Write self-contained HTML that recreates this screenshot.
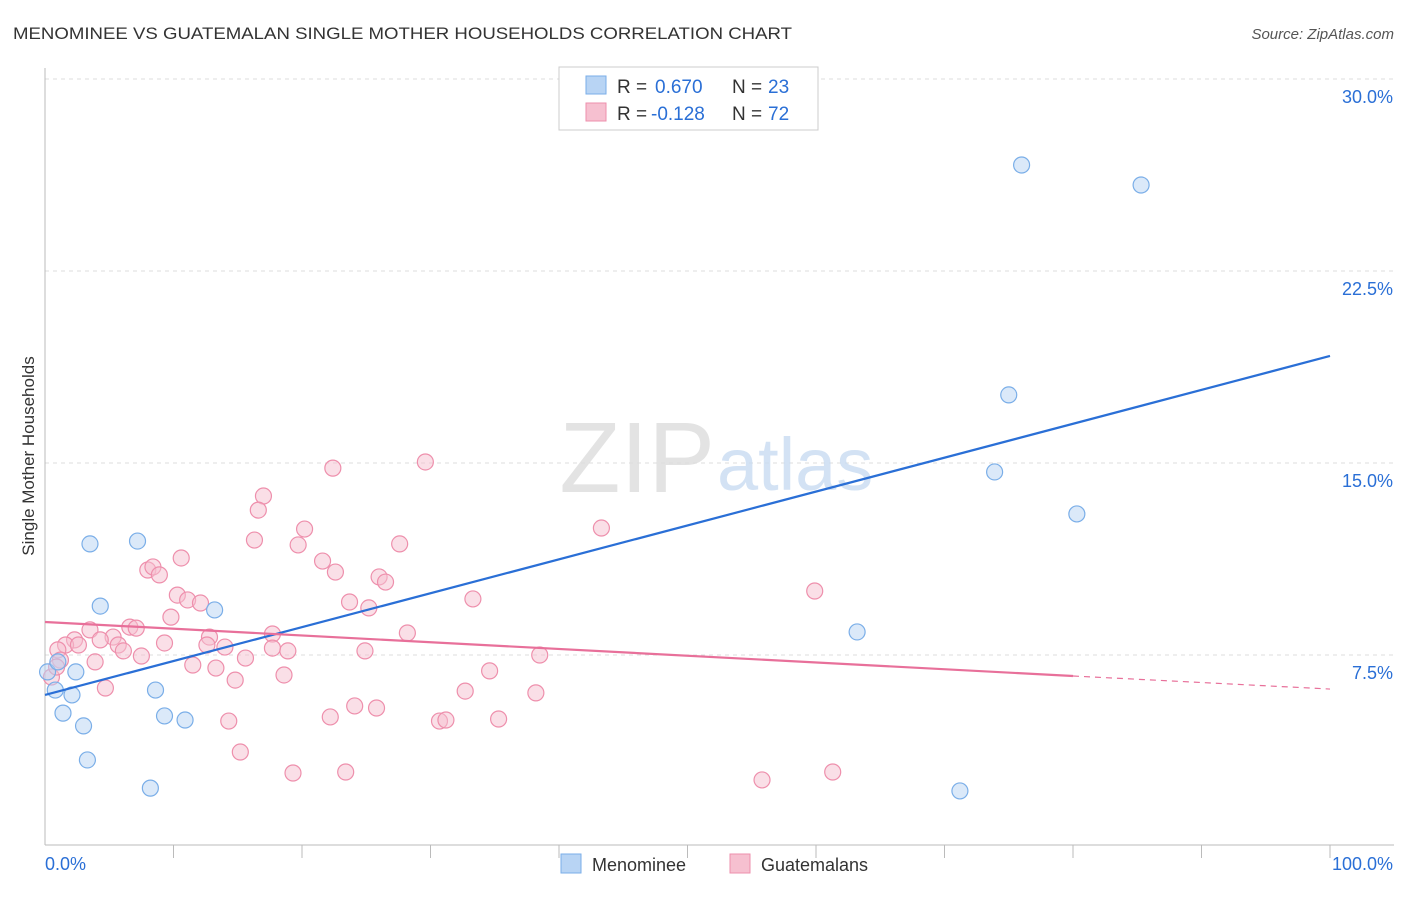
<!DOCTYPE html>
<html><head><meta charset="utf-8"><style>
body{margin:0;background:#fff;font-family:"Liberation Sans",sans-serif;}
svg text{font-family:"Liberation Sans",sans-serif;}
</style></head><body>
<svg width="1406" height="892" viewBox="0 0 1406 892">
<text x="13" y="39" font-size="17" fill="#333" textLength="779" lengthAdjust="spacingAndGlyphs">MENOMINEE VS GUATEMALAN SINGLE MOTHER HOUSEHOLDS CORRELATION CHART</text>
<text x="1394" y="39" font-size="15" fill="#555" text-anchor="end" font-style="italic">Source: ZipAtlas.com</text>
<g id="grid"></g>
<g id="axes"></g>
<text x="715" y="492" font-size="100" fill="#ddd" text-anchor="end" font-family="Liberation Serif" opacity="0.8">ZIP</text>
<text x="717" y="490" font-size="74" fill="#c9dcf2" opacity="0.8">atlas</text>
<g id="pts"></g>
<g id="lines"></g>
<text x="34" y="456" font-size="17" fill="#333" text-anchor="middle" transform="rotate(-90 34 456)">Single Mother Households</text>
<g>
<rect x="559" y="67" width="259" height="63" fill="#fff" stroke="#ccc"/>
<rect x="586" y="76" width="20" height="18" fill="#b8d4f4" stroke="#7aaee8"/>
<text x="617" y="93" font-size="19" fill="#333">R =</text>
<text x="655" y="93" font-size="19" fill="#2a6fd6">0.670</text>
<text x="732" y="93" font-size="19" fill="#333">N =</text>
<text x="768" y="93" font-size="19" fill="#2a6fd6">23</text>
<rect x="586" y="103" width="20" height="18" fill="#f6c0d0" stroke="#ee8fac"/>
<text x="617" y="120" font-size="19" fill="#333">R =</text>
<text x="651" y="120" font-size="19" fill="#2a6fd6">-0.128</text>
<text x="732" y="120" font-size="19" fill="#333">N =</text>
<text x="768" y="120" font-size="19" fill="#2a6fd6">72</text>
</g>
<g>
<rect x="561" y="854" width="20" height="19" fill="#b8d4f4" stroke="#7aaee8"/>
<text x="592" y="871" font-size="18" fill="#333">Menominee</text>
<rect x="730" y="854" width="20" height="19" fill="#f6c0d0" stroke="#ee8fac"/>
<text x="761" y="871" font-size="18" fill="#333">Guatemalans</text>
</g>
</svg>
<script>
const yTicks=[7.5,15,22.5,30];
const yTickLabels=["7.5%","15.0%","22.5%","30.0%"];
const xTickLabels=["0.0%","100.0%"];
const blueX=[76.0,85.3,75.0,73.9,80.3,63.2,71.2,3.5,7.2,4.3,13.2,8.6,9.3,10.9,1.4,3.0,3.3,8.2,0.2,0.8,2.1,2.4,1.0];
const blueY=[26.64,25.86,17.66,14.65,13.01,8.40,2.19,11.84,11.95,9.41,9.26,6.13,5.12,4.96,5.23,4.73,3.40,2.30,6.84,6.13,5.94,6.84,7.23];
const pinkX=[22.4,29.6,17.0,16.6,20.2,43.3,16.3,19.7,27.6,10.6,21.6,22.6,26.0,26.5,8.0,8.4,8.9,59.9,33.3,23.7,10.3,11.1,12.1,25.2,9.8,6.6,7.1,3.5,5.3,4.3,2.3,1.6,2.6,12.8,17.7,28.2,9.3,5.7,12.6,14.0,17.7,18.9,24.9,6.1,7.5,15.6,38.5,3.9,11.5,13.3,34.6,18.6,14.8,4.7,32.7,38.2,24.1,25.8,22.2,14.3,30.7,31.2,35.3,15.2,19.3,23.4,55.8,61.3,1.0,1.2,0.5,0.9];
const pinkY=[14.80,15.04,13.71,13.16,12.42,12.46,11.99,11.80,11.84,11.29,11.17,10.74,10.55,10.35,10.82,10.94,10.63,10.0,9.69,9.57,9.84,9.65,9.53,9.34,8.98,8.59,8.55,8.48,8.20,8.09,8.09,7.89,7.89,8.20,8.32,8.36,7.97,7.89,7.89,7.81,7.77,7.66,7.66,7.66,7.46,7.38,7.50,7.23,7.11,6.99,6.88,6.72,6.52,6.21,6.09,6.02,5.51,5.43,5.08,4.92,4.92,4.96,5.00,3.71,2.89,2.93,2.62,2.93,7.70,7.30,6.64,7.03];
const blueLine=[[0,5.94],[100,19.18]];
const pinkLine=[[0,8.79],[80,6.68],[100,6.17]];
const NS="http://www.w3.org/2000/svg";
const X=v=>45+v*12.85, Y=v=>847-v*25.6;
function mk(t,a,p){const e=document.createElementNS(NS,t);for(const k in a)e.setAttribute(k,a[k]);p.appendChild(e);return e;}
const grid=document.getElementById('grid'),axes=document.getElementById('axes');
yTicks.forEach((v,i)=>{
 const l=mk('line',{x1:45,x2:1394,y1:Y(v),y2:Y(v),stroke:'#ddd','stroke-dasharray':'4 4'},grid);
 
 
 const t=mk('text',{x:1393,y:Y(v)+24,'font-size':18,fill:'#2a6fd6','text-anchor':'end'},axes);
 t.textContent=yTickLabels[i];
 
 
});
mk('line',{x1:45,x2:45,y1:68,y2:845,stroke:'#bbb'},axes);
mk('line',{x1:45,x2:1394,y1:845,y2:845,stroke:'#bbb'},axes);
for(let i=1;i<=10;i++){const tk=mk('line',{x1:X(i*10),x2:X(i*10),y1:845,y2:858,stroke:'#bbb'},axes);
 
 }
const xl0=mk('text',{x:45,y:870,'font-size':18,fill:'#2a6fd6'},axes);xl0.textContent=xTickLabels[0];


const xl1=mk('text',{x:1393,y:870,'font-size':18,fill:'#2a6fd6','text-anchor':'end'},axes);xl1.textContent=xTickLabels[1];


const pts=document.getElementById('pts');
pinkX.forEach((v,i)=>{const c=mk('circle',{cx:X(v),cy:Y(pinkY[i]),r:8,fill:'#f6c0d0','fill-opacity':0.5,stroke:'#ee8fac','stroke-width':1.2},pts);
 
 });
blueX.forEach((v,i)=>{const c=mk('circle',{cx:X(v),cy:Y(blueY[i]),r:8,fill:'#b8d4f4','fill-opacity':0.5,stroke:'#7aaee8','stroke-width':1.2},pts);
 
 });
const lines=document.getElementById('lines');
const bl=mk('line',{x1:X(blueLine[0][0]),y1:Y(blueLine[0][1]),x2:X(blueLine[1][0]),y2:Y(blueLine[1][1]),stroke:'#2a6fd6','stroke-width':2.2},lines);


const pl=mk('line',{x1:X(pinkLine[0][0]),y1:Y(pinkLine[0][1]),x2:X(pinkLine[1][0]),y2:Y(pinkLine[1][1]),stroke:'#e8709a','stroke-width':2.2},lines);


const pd=mk('line',{x1:X(pinkLine[1][0]),y1:Y(pinkLine[1][1]),x2:X(pinkLine[2][0]),y2:Y(pinkLine[2][1]),stroke:'#e8709a','stroke-width':1.2,'stroke-dasharray':'6 5'},lines);


</script>
</body></html>
